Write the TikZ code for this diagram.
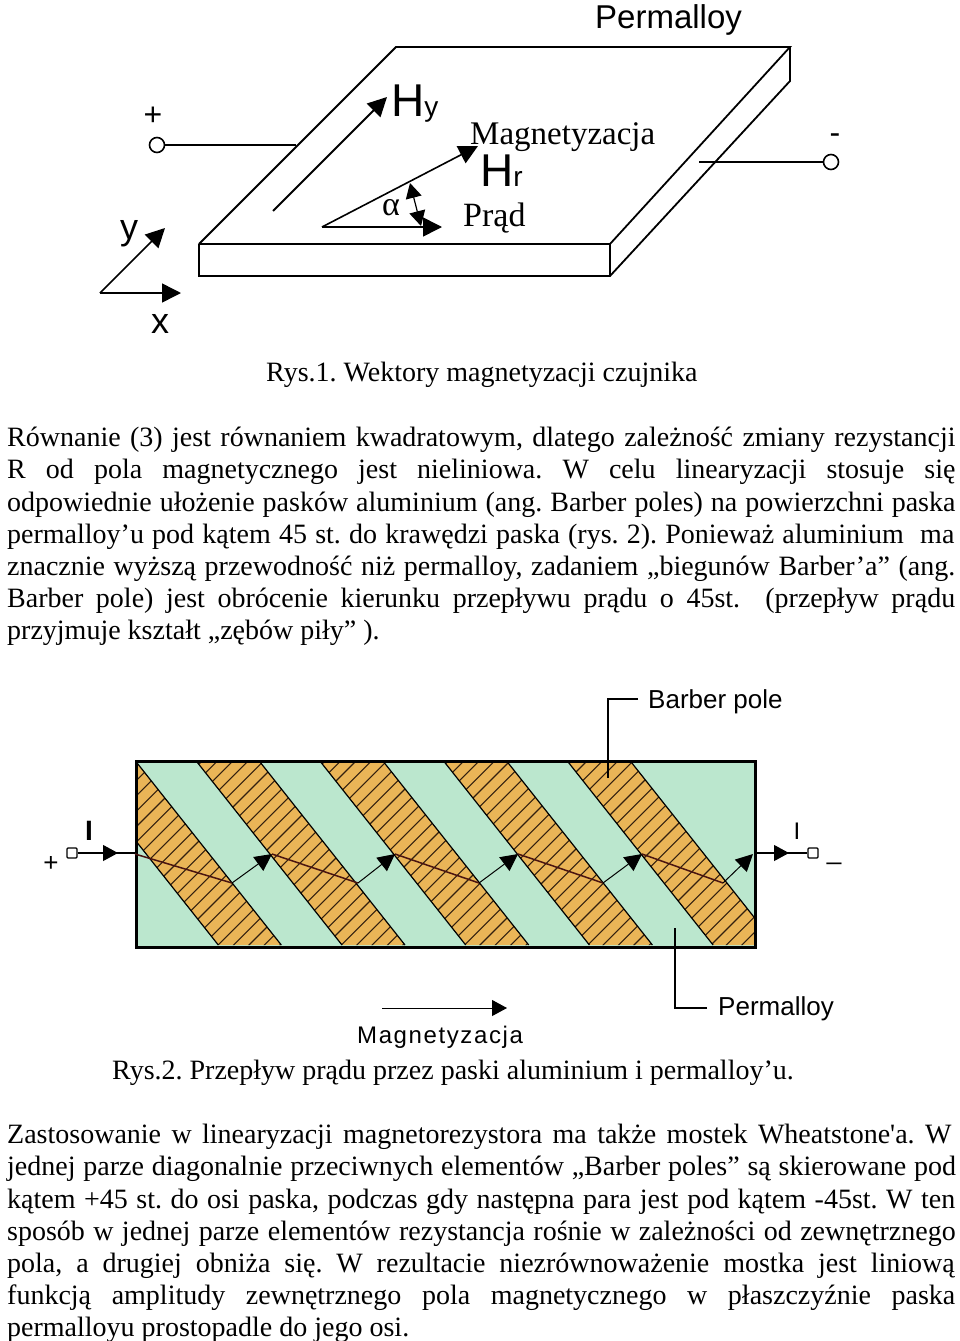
\documentclass[tikz,border=0pt]{standalone}
\usepackage{fontspec}
\setmainfont{Liberation Serif}
\newfontfamily\bodyfont{Liberation Serif}
\newfontfamily\arialfont{Liberation Sans}
\newfontfamily\spacedfont[LetterSpace=6.7]{Liberation Sans}
\usetikzlibrary{arrows.meta}
\usetikzlibrary{positioning}

\definecolor{stripeorange}{HTML}{EAB557}
\definecolor{stripegreen}{HTML}{BBE7CE}
\definecolor{hatchbrown}{HTML}{33200F}
\definecolor{pathbrown}{HTML}{4A1410}

\newcommand{\jline}[2]{\hbox{\frenchspacing\spaceskip=#1pt\relax #2}}

\tikzset{
    bodytext/.style={inner sep=0pt, anchor=north west, text width=948pt, font=\bodyfont\fontsize{28}{32.2}\selectfont},
    caption/.style={inner sep=0pt, anchor=base west, font=\frenchspacing\fontsize{28}{32.2}\selectfont},
    sanslabel/.style={inner sep=0pt, font=\arialfont\fontsize{#1}{#1}\selectfont},
    seriflabel/.style={inner sep=0pt, font=\fontsize{#1}{#1}\selectfont},
    bigarrow/.style={-{Triangle[length=19pt,width=19pt]}, line width=1.8pt},
    smallarrow/.style={-{Triangle[length=17pt,width=17pt]}, line width=1pt},
    terminal/.style={circle, draw=black, line width=1.6pt, fill=white, minimum width=15pt, inner sep=0pt},
    terminalbox/.style={rectangle, rounded corners=1pt, draw=black, line width=1.2pt, fill=white, minimum size=10pt, inner sep=0pt},
    slabedge/.style={line width=1.8pt, line join=miter},
    leader/.style={line width=1.2pt},
}

\begin{document}
\begin{tikzpicture}[x=1pt, y=-1pt]
    \useasboundingbox (0,0) rectangle (960,1341);
    \fill[white] (0,0) rectangle (960,1341);

    % permalloy slab
    \coordinate (backleft) at (396,47);
    \coordinate (backright) at (790,47);
    \coordinate (backrightlow) at (790,81);
    \coordinate (frontleft) at (199,244);
    \coordinate (frontright) at (610,244);
    \coordinate (frontleftlow) at (199,276);
    \coordinate (frontrightlow) at (610,276);
    \draw[slabedge] (frontleft) -- (backleft) -- (backright) -- (frontright);
    \draw[slabedge] (backright) -- (backrightlow) -- (frontrightlow) -- (frontleftlow) -- (frontleft);
    \draw[slabedge, line width=2.4pt] (frontleft) -- (frontright) -- (frontrightlow);

    \node[sanslabel=33, anchor=base west] (permalloytop) at (595,28) {Permalloy};

    % terminals
    \node[terminal] (plus) at (157,145) {};
    \coordinate (plusend) at (296,145);
    \draw[line width=1.8pt] (plus) -- (plusend);
    \node[sanslabel=32] (pluslabel) at (153,116) {+};
    \node[terminal] (minus) at (831,162) {};
    \coordinate (minusend) at (699,162);
    \draw[line width=1.8pt] (minus) -- (minusend);
    \node[sanslabel=32] (minuslabel) at (835,139) {-};

    % field vectors
    \coordinate (hystart) at (273,211);
    \node[sanslabel=46, anchor=base west] (hy) at (391,116) {H\fontsize{28}{28}\selectfont y};
    \draw[bigarrow] (hystart) -- (387,97);

    \coordinate (origin) at (322,227);
    \node[sanslabel=46, anchor=base west] (hr) at (480,186) {H\fontsize{28}{28}\selectfont r};
    \node[seriflabel=33, anchor=base west] (magnet) at (470,144) {Magnetyzacja};
    \node[seriflabel=34, anchor=base west] (prad) at (463,226) {Prąd};
    \node[seriflabel=34] (alpha) at (391,208) {α};
    \draw[bigarrow, line width=1.6pt] (origin) -- (478,146);
    \draw[bigarrow, line width=1.6pt] (origin) -- (442,227);
    \draw[{Triangle[length=15pt,width=16pt]}-{Triangle[length=15pt,width=16pt]}, line width=1.2pt] (410,183) -- (421,226);

    % axes
    \coordinate (axes) at (100,293);
    \draw[bigarrow, line width=1.5pt] (axes) -- (165,228);
    \draw[bigarrow, line width=1.5pt] (axes) -- (181,293);
    \node[sanslabel=36] (ylabel) at (129,234) {y};
    \node[sanslabel=36] (xlabel) at (160,324) {x};

    \node[caption] (caption1) at (266,381) {Rys.1. Wektory magnetyzacji czujnika};

    \node[bodytext] (para1) at (7,427) {%
        \jline{9.4}{Równanie (3) jest równaniem kwadratowym, dlatego zależność zmiany rezystancji}
        \jline{20.1}{R od pola magnetycznego jest nieliniowa. W celu linearyzacji stosuje się}
        \jline{8}{odpowiednie ułożenie pasków aluminium (ang. Barber poles) na powierzchni paska}
        \jline{8.2}{permalloy’u pod kątem 45 st. do krawędzi paska (rys. 2). Ponieważ aluminium\ \ ma}
        \jline{8.6}{znacznie wyższą przewodność niż permalloy, zadaniem „biegunów Barber’a” (ang.}
        \jline{12.6}{Barber pole) jest obrócenie kierunku przepływu prądu o 45st.\ \ (przepływ prądu}
        \jline{7}{przyjmuje kształt „zębów piły” ).}};

    % barber poles on the strip
    \begin{scope}
        \clip (135,760) rectangle (754,946);
        \fill[stripegreen] (135,760) rectangle (754,946);
        \foreach \k in {-1,0,1,2,3} {
            \pgfmathsetmacro{\sx}{197+123.7*\k}
            \begin{scope}
                \clip (\sx,762) -- (\sx+63,762) -- (\sx+208,945) -- (\sx+145,945) -- cycle;
                \fill[stripeorange] (\sx,762) -- (\sx+63,762) -- (\sx+208,945) -- (\sx+145,945) -- cycle;
                \foreach \h in {-60,-44.6,...,760} {
                    \draw[line width=1.1pt, hatchbrown] (\h,946) -- (\h+186,760);
                }
            \end{scope}
            \draw[line width=1.2pt] (\sx,762) -- (\sx+145,945) (\sx+63,762) -- (\sx+208,945);
        }
    \end{scope}
    \node[draw=black, line width=3pt, minimum width=619pt, minimum height=186pt, inner sep=0pt, anchor=north west] (strip) at (135,760) {};

    % current path
    \foreach \a/\b/\c [count=\i] in {135/232/272, 272/358/395, 395/479/518, 518/603/642, 642/723/753} {
        \draw[line width=1.5pt, pathbrown] (\a,854) -- (\b,883);
        \draw[smallarrow] (\b,883) -- (\c,854);
    }

    \node[terminalbox] (inbox) at (72,853) {};
    \draw[-{Triangle[length=15pt,width=16pt]}, line width=1.1pt] (inbox) -- (118,853);
    \draw[line width=1.1pt] (inbox) -- (strip.west |- inbox);
    \node[terminalbox] (outbox) at (813,853) {};
    \draw[line width=1.1pt] (strip.east |- outbox) -- (outbox);
    \draw[-{Triangle[length=15pt,width=16pt]}, line width=1.1pt] (strip.east |- outbox) -- (789,853);
    \node[sanslabel=28, font=\arialfont\bfseries\fontsize{28}{28}\selectfont] (iin) at (89,831) {I};
    \node[sanslabel=24] (iout) at (797,831) {I};
    \node[sanslabel=26] (plusin) at (51,864) {+};
    \node[sanslabel=26] (minusout) at (834,862) {\_};

    % labels with leaders
    \node[sanslabel=26, anchor=base west] (barber) at (648,708) {Barber pole};
    \coordinate (barberbend) at (608,699);
    \coordinate (barberend) at (608,778);
    \draw[leader] (barber.west |- barberbend) ++(-10,0) coordinate (barberstart) -- (barberbend) -- (barberend);
    \node[sanslabel=26, anchor=base west] (permalloy) at (718,1015) {Permalloy};
    \coordinate (permbend) at (675,1008);
    \coordinate (permend) at (675,928);
    \draw[leader] (permalloy.west |- permbend) ++(-11,0) coordinate (permstart) -- (permbend) -- (permend);
    \node[inner sep=0pt, font=\spacedfont\fontsize{24}{24}\selectfont, anchor=base west] (magnet2) at (357,1043) {Magnetyzacja};
    \coordinate (magstart) at (382,1008);
    \coordinate (magend) at (507,1008);
    \draw[-{Triangle[length=15pt,width=16pt]}, line width=1pt] (magstart) -- (magend);

    \node[caption] (caption2) at (112,1079) {Rys.2. Przepływ prądu przez paski aluminium i permalloy’u.};

    \node[bodytext] (para2) at (7,1124) {%
        \jline{10.4}{Zastosowanie w linearyzacji magnetorezystora ma także mostek Wheatstone'a. W}
        \jline{7.8}{jednej parze diagonalnie przeciwnych elementów „Barber poles” są skierowane pod}
        \jline{8.5}{kątem +45 st. do osi paska, podczas gdy następna para jest pod kątem -45st. W ten}
        \jline{8.4}{sposób w jednej parze elementów rezystancja rośnie w zależności od zewnętrznego}
        \jline{13.9}{pola, a drugiej obniża się. W rezultacie niezrównoważenie mostka jest liniową}
        \jline{20.6}{funkcją amplitudy zewnętrznego pola magnetycznego w płaszczyźnie paska}
        \jline{7}{permalloyu prostopadle do jego osi.}};
\end{tikzpicture}
\end{document}
